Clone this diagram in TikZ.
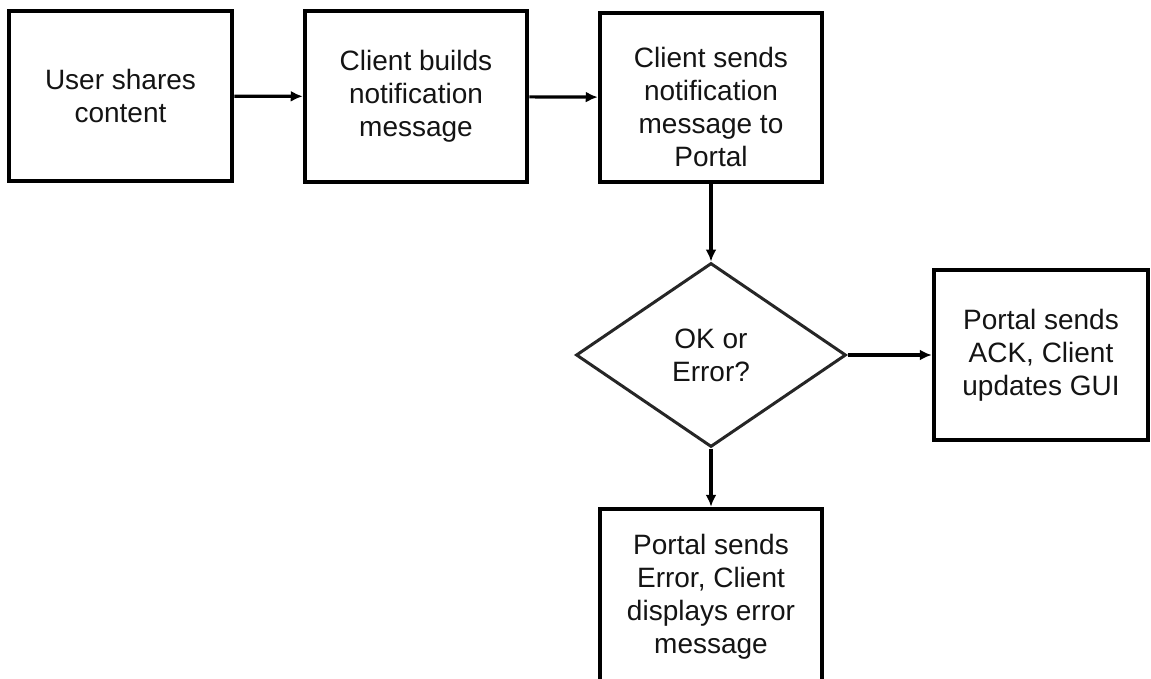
\documentclass[tikz,border=0pt]{standalone}
\usepackage{fontspec}
\setmainfont{Liberation Sans}
\usetikzlibrary{shapes.geometric,arrows.meta}
\tikzset{
  stepbox/.style={draw=black, line width=4.5pt, fill=white, inner sep=0pt, align=center,
    text=black!92, font=\fontsize{28}{33}\selectfont},
  decision/.style={draw=black!85, line width=3pt, diamond, inner sep=0pt, align=center,
    text=black!92, font=\fontsize{28}{33}\selectfont,
    minimum width=270pt, minimum height=184pt},
  flow/.style={draw=black, line width=3.2pt, -{Latex[length=12pt,width=11pt]}},
}
\begin{document}
\begin{tikzpicture}[x=1pt,y=-1pt]
\useasboundingbox (0,0) rectangle (1151,679);
\clip (0,0) rectangle (1151,679);
\node[stepbox, minimum width=223pt, minimum height=170pt] (share) at (120.5,96) {User shares\\content};
\node[stepbox, minimum width=222pt, minimum height=171pt] (build) at (416,96.5) {Client builds\\notification\\message};
\node[stepbox, minimum width=222pt, minimum height=169pt,
  label={[align=center, text=black!92, font=\fontsize{28}{33}\selectfont, yshift=-9pt]center:Client sends\\notification\\message to\\Portal}] (send) at (711,97.5) {};
\node[decision] (check) at (711,355) {OK or\\Error?};
\node[stepbox, minimum width=214pt, minimum height=170pt] (ack) at (1041,355) {Portal sends\\ACK, Client\\updates GUI};
\node[stepbox, minimum width=222pt, minimum height=175pt] (err) at (711,596.5) {Portal sends\\Error, Client\\displays error\\message};
\draw[flow] (share) -- (build);
\draw[flow] (build) -- (send);
\draw[flow] (send.south) -- (check.north);
\draw[flow] (check.east) -- (ack.west);
\draw[flow] (check.south) -- (err.north);
\end{tikzpicture}
\end{document}
